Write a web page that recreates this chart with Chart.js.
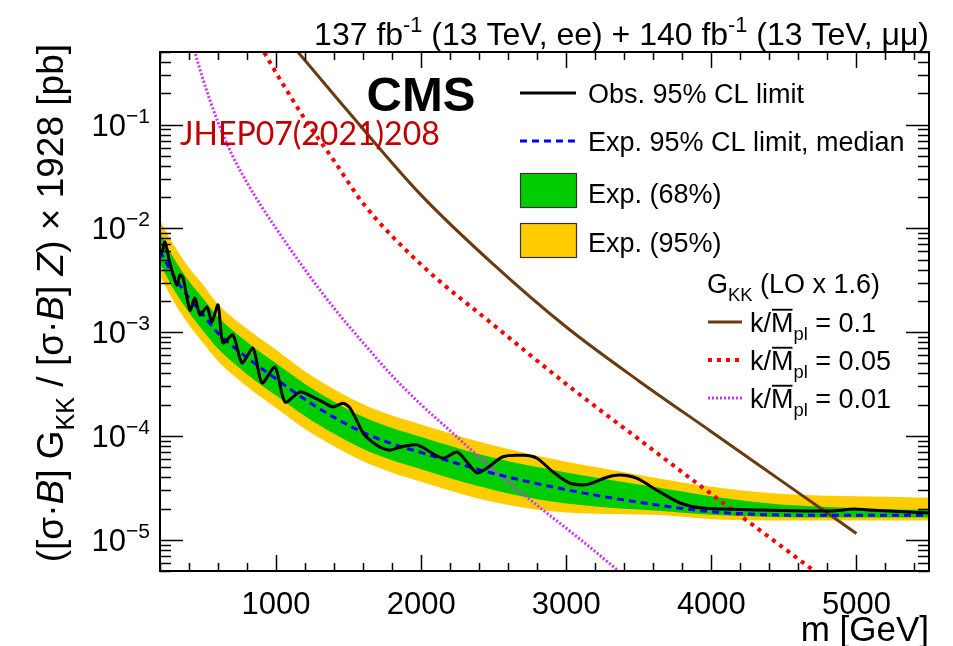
<!DOCTYPE html>
<html>
<head>
<meta charset="utf-8">
<script src="https://cdn.jsdelivr.net/npm/chart.js@4.4.1/dist/chart.umd.min.js"></script>
<style>
  html, body { margin: 0; padding: 0; background: #fff; }
  #wrap { position: relative; width: 953px; height: 646px; }
</style>
</head>
<body>
<div id="wrap"><canvas id="chart" width="953" height="646"></canvas></div>
<script>
// expected limit and bands (mass in GeV, limit in pb)
const bandMass = [200, 300, 400, 500, 600, 800, 1000, 1200, 1400, 1600, 1800, 2000, 2400, 2800, 3200, 3600, 4000, 4400, 4800, 5200, 5500];
const expMedian = [6.03e-3, 3.39e-3, 2.14e-3, 1.45e-3, 9.77e-4, 5.69e-4, 3.55e-4, 2.24e-4, 1.51e-4, 1.08e-4, 8.41e-5, 6.92e-5, 4.73e-5, 3.47e-5, 2.69e-5, 2.19e-5, 1.86e-5, 1.74e-5, 1.72e-5, 1.72e-5, 1.72e-5];
const exp68Up = [8.91e-3, 5.01e-3, 3.09e-3, 2.09e-3, 1.41e-3, 8.04e-4, 5.01e-4, 3.16e-4, 2.14e-4, 1.53e-4, 1.19e-4, 9.77e-5, 6.68e-5, 5.01e-5, 3.98e-5, 3.24e-5, 2.63e-5, 2.24e-5, 2.07e-5, 1.97e-5, 1.93e-5];
const exp68Down = [4.57e-3, 2.51e-3, 1.55e-3, 1.02e-3, 6.92e-4, 3.94e-4, 2.45e-4, 1.55e-4, 1.05e-4, 7.5e-5, 5.82e-5, 4.79e-5, 3.27e-5, 2.45e-5, 2.09e-5, 1.91e-5, 1.74e-5, 1.66e-5, 1.64e-5, 1.64e-5, 1.64e-5];
const exp95Up = [1.20e-2, 6.76e-3, 4.17e-3, 2.82e-3, 1.86e-3, 1.08e-3, 6.76e-4, 4.17e-4, 2.82e-4, 2.02e-4, 1.57e-4, 1.29e-4, 8.8e-5, 6.46e-5, 5.01e-5, 3.98e-5, 3.24e-5, 2.82e-5, 2.66e-5, 2.60e-5, 2.54e-5];
const exp95Down = [3.47e-3, 1.91e-3, 1.17e-3, 7.76e-4, 5.25e-4, 2.99e-4, 1.86e-4, 1.17e-4, 7.94e-5, 5.69e-5, 4.42e-5, 3.63e-5, 2.48e-5, 1.95e-5, 1.78e-5, 1.74e-5, 1.58e-5, 1.53e-5, 1.53e-5, 1.53e-5, 1.53e-5];

// observed limit
const obsMass = [200, 214, 234, 269, 317, 338, 359, 407, 441, 476, 524, 558, 600, 634, 703, 765, 841, 903, 993, 1062, 1165, 1255, 1323, 1392, 1461, 1510, 1599, 1647, 1716, 1785, 1854, 1971, 2150, 2247, 2316, 2385, 2454, 2564, 2702, 2798, 2909, 3026, 3143, 3281, 3370, 3488, 3625, 3784, 3935, 4315, 4825, 4983, 5080, 5500];
const obsLimit = [6.0e-3, 5.9e-3, 7.4e-3, 4.6e-3, 2.84e-3, 3.55e-3, 3.33e-3, 1.63e-3, 2.13e-3, 1.46e-3, 1.75e-3, 1.25e-3, 1.83e-3, 7.9e-4, 9.4e-4, 5.05e-4, 7.0e-4, 3.24e-4, 4.6e-4, 2.12e-4, 2.65e-4, 2.37e-4, 2.12e-4, 1.90e-4, 2.07e-4, 1.86e-4, 1.07e-4, 9.1e-5, 7.8e-5, 7.3e-5, 7.8e-5, 8.2e-5, 6.1e-5, 7.0e-5, 5.6e-5, 4.4e-5, 4.9e-5, 6.3e-5, 6.5e-5, 6.1e-5, 4.5e-5, 3.5e-5, 3.4e-5, 4.0e-5, 4.2e-5, 3.9e-5, 3.0e-5, 2.26e-5, 2.02e-5, 1.94e-5, 1.89e-5, 1.98e-5, 1.94e-5, 1.81e-5];

// G_KK theory, k/Mpl = 0.1, 0.05, 0.01
const k01Mass = [1000, 1150, 1500, 2000, 2500, 3000, 3500, 4000, 4500, 5000];
const k01Xsec = [0.87, 0.50, 0.132, 0.0209, 4.47e-3, 1.12e-3, 3.39e-4, 1.10e-4, 3.55e-5, 1.15e-5];
const k005Mass = [800, 900, 1000, 1200, 1400, 1600, 2000, 2500, 3000, 3500, 4000, 4500, 4800];
const k005Xsec = [1.0, 0.55, 0.316, 0.112, 0.0447, 0.0174, 4.47e-3, 1.17e-3, 3.16e-4, 9.3e-5, 2.75e-5, 8.3e-6, 4.0e-6];
const k001Mass = [400, 440, 500, 600, 700, 800, 900, 1000, 1200, 1400, 1600, 1800, 2000, 2200, 2500, 2800, 3100, 3400];
const k001Xsec = [0.80, 0.50, 0.263, 0.105, 0.050, 0.0275, 0.0162, 0.0100, 3.98e-3, 1.70e-3, 7.9e-4, 3.8e-4, 2.0e-4, 1.12e-4, 4.7e-5, 2.14e-5, 1.0e-5, 4.5e-6];

const xLabelTicks = [1000, 2000, 3000, 4000, 5000];
const yLabelExps = [-5, -4, -3, -2, -1];

const FONT = '"Liberation Sans", Arial, Helvetica, sans-serif';
const pairs = (xs, ys) => xs.map((x, i) => ({ x, y: ys[i] }));

// draws a run of text pieces: [text, {s: size factor, dy: offset in em, italic, bold, over}]
function drawRich(ctx, parts, x, y, size, align) {
  const metrics = parts.map(([text, o = {}]) => {
    const fs = size * (o.s || 1);
    const font = `${o.italic ? "italic " : ""}${o.bold ? "bold " : ""}${fs}px ${FONT}`;
    ctx.font = font;
    return { text, o, fs, font, w: ctx.measureText(text).width };
  });
  const total = metrics.reduce((s, m) => s + m.w, 0);
  let cx = align === "right" ? x - total : align === "center" ? x - total / 2 : x;
  metrics.forEach((m) => {
    ctx.font = m.font;
    const by = y + (m.o.dy || 0) * size;
    ctx.fillText(m.text, cx, by);
    if (m.o.over) ctx.fillRect(cx + 1, by - m.fs * 0.86, m.w - 2, Math.max(1.5, m.fs * 0.07));
    cx += m.w;
  });
  return total;
}

const rootStyle = {
  id: "rootStyle",
  afterDraw(chart) {
    const { ctx, chartArea: a, scales } = chart;
    const xs = scales.x, ys = scales.y;
    ctx.save();
    ctx.strokeStyle = "#000";
    ctx.fillStyle = "#000";

    // tick marks on all four sides, pointing inwards
    ctx.lineWidth = 1.5;
    ctx.beginPath();
    for (let m = 200; m <= 5500; m += 200) {
      const px = Math.round(xs.getPixelForValue(m)) + 0.5;
      const len = m % 1000 === 0 ? 16 : 8;
      ctx.moveTo(px, a.bottom); ctx.lineTo(px, a.bottom - len);
      ctx.moveTo(px, a.top); ctx.lineTo(px, a.top + len);
    }
    for (let d = -6; d <= -1; d++) {
      for (let k = 1; k <= 9; k++) {
        const v = k * Math.pow(10, d);
        if (v < 4.99e-6 || v > 0.501) continue;
        const py = Math.round(ys.getPixelForValue(v)) + 0.5;
        const len = k === 1 ? 23 : 11;
        ctx.moveTo(a.left, py); ctx.lineTo(a.left + len, py);
        ctx.moveTo(a.right, py); ctx.lineTo(a.right - len, py);
      }
    }
    ctx.stroke();

    // frame
    ctx.lineWidth = 2;
    ctx.strokeRect(a.left, a.top, a.right - a.left, a.bottom - a.top);

    // y tick labels 10^n
    ctx.textBaseline = "alphabetic";
    yLabelExps.forEach((e) => {
      const py = ys.getPixelForValue(Math.pow(10, e));
      drawRich(ctx, [["10"], ["\u2212" + (-e), { s: 0.68, dy: -0.42 }]], 150, py + 11, 31, "right");
    });

    // header
    drawRich(ctx, [
      ["137 fb"], ["-1", { s: 0.68, dy: -0.42 }], [" (13 TeV, ee) + 140 fb"], ["-1", { s: 0.68, dy: -0.42 }], [" (13 TeV, \u03bc\u03bc)"],
    ], 929, 45, 32, "right");

    // axis titles
    drawRich(ctx, [["m [GeV]"]], 929, 641, 35, "right");
    ctx.save();
    ctx.translate(63, 44);
    ctx.rotate(-Math.PI / 2);
    drawRich(ctx, [
      ["([\u03c3\u00b7"], ["B", { italic: true }], ["] G"], ["KK", { s: 0.68, dy: 0.3 }],
      [" / [\u03c3\u00b7"], ["B", { italic: true }], ["] "], ["Z", { italic: true }], [") \u00d7 1928 [pb]"],
    ], 0, 0, 37, "right");
    ctx.restore();

    // CMS label and reference
    ctx.font = `bold 49px ${FONT}`;
    ctx.textAlign = "center";
    ctx.fillText("CMS", 421, 111);
    ctx.textAlign = "left";
    ctx.fillStyle = "#c00000";
    ctx.font = '32px Lato, "Open Sans", sans-serif';
    ctx.fillText("JHEP07(2021)208", 180, 145);

    // legend
    ctx.fillStyle = "#000";
    const lx0 = 520, lx1 = 576, tx = 588, lf = 27;
    const legLine = (x0, x1, y, color, width, dash) => {
      ctx.save();
      ctx.strokeStyle = color; ctx.lineWidth = width; ctx.setLineDash(dash);
      ctx.beginPath(); ctx.moveTo(x0, y); ctx.lineTo(x1, y); ctx.stroke();
      ctx.restore();
    };
    legLine(lx0, lx1, 93, "#000", 3, []);
    drawRich(ctx, [["Obs. 95% CL limit"]], tx, 93 + 10, lf, "left");
    legLine(lx0, lx1, 141, "#0000ff", 3, [7, 5]);
    drawRich(ctx, [["Exp. 95% CL limit, median"]], tx, 141 + 10, lf, "left");
    const legBox = (y0, color) => {
      ctx.fillStyle = color; ctx.fillRect(lx0, y0, 57, 35);
      ctx.strokeStyle = "#333"; ctx.lineWidth = 1.2; ctx.strokeRect(lx0 + 0.5, y0 + 0.5, 56, 34);
      ctx.fillStyle = "#000";
    };
    legBox(173, "#00cc00");
    drawRich(ctx, [["Exp. (68%)"]], tx, 193 + 10, lf, "left");
    legBox(223, "#ffcc00");
    drawRich(ctx, [["Exp. (95%)"]], tx, 242 + 10, lf, "left");

    drawRich(ctx, [["G"], ["KK", { s: 0.68, dy: 0.3 }], [" (LO x 1.6)"]], 707, 283 + 10, lf, "left");
    const kLabel = (val) => [["k/"], ["M", { over: true }], ["pl", { s: 0.68, dy: 0.3 }], [" = " + val]];
    legLine(708, 742, 322, "#6b3a0e", 3, []);
    drawRich(ctx, kLabel("0.1"), 750, 322 + 10, lf, "left");
    legLine(708, 742, 360, "#ff0000", 4, [4, 5]);
    drawRich(ctx, kLabel("0.05"), 750, 360 + 10, lf, "left");
    legLine(708, 742, 398, "#cc33ff", 3, [2, 2]);
    drawRich(ctx, kLabel("0.01"), 750, 398 + 10, lf, "left");

    ctx.restore();
  },
};

const lineSet = (label, data, color, width, dash, order, extra) => Object.assign({
  label, data, borderColor: color, borderWidth: width, borderDash: dash,
  pointRadius: 0, fill: false, order, clip: 0, cubicInterpolationMode: "monotone",
}, extra || {});

new Chart(document.getElementById("chart"), {
  type: "line",
  data: {
    datasets: [
      lineSet("Obs. 95% CL limit", pairs(obsMass, obsLimit), "#000", 3, [], 0, { cubicInterpolationMode: "default", tension: 0.25 }),
      lineSet("Exp. 95% CL limit, median", pairs(bandMass, expMedian), "#0000ff", 3, [7, 5], 1),
      lineSet("k/Mpl = 0.1", pairs(k01Mass, k01Xsec), "#6b3a0e", 3, [], 2),
      lineSet("k/Mpl = 0.05", pairs(k005Mass, k005Xsec), "#ff0000", 4, [4, 5], 3),
      lineSet("k/Mpl = 0.01", pairs(k001Mass, k001Xsec), "#cc33ff", 3, [2, 2], 4),
      lineSet("Exp. (68%)", pairs(bandMass, exp68Up), "rgba(0,0,0,0)", 0, [], 5, { fill: "+1", backgroundColor: "#00cc00" }),
      lineSet("68% low", pairs(bandMass, exp68Down), "rgba(0,0,0,0)", 0, [], 5),
      lineSet("Exp. (95%)", pairs(bandMass, exp95Up), "rgba(0,0,0,0)", 0, [], 6, { fill: "+1", backgroundColor: "#ffcc00" }),
      lineSet("95% low", pairs(bandMass, exp95Down), "rgba(0,0,0,0)", 0, [], 6),
    ],
  },
  options: {
    responsive: false,
    animation: false,
    devicePixelRatio: 1,
    layout: { padding: { top: 52, right: 24, left: 0, bottom: 0 } },
    plugins: { legend: { display: false }, tooltip: { enabled: false } },
    scales: {
      x: {
        type: "linear", min: 200, max: 5500,
        grid: { display: false, drawTicks: false }, border: { display: false },
        afterBuildTicks: (axis) => { axis.ticks = xLabelTicks.map((value) => ({ value })); },
        ticks: {
          font: { family: FONT, size: 31 }, color: "#000", padding: 16, maxRotation: 0, autoSkip: false,
          callback: (value) => String(value),
        },
        afterFit: (axis) => { axis.height = 75; },
      },
      y: {
        type: "logarithmic", min: 5e-6, max: 0.5,
        grid: { display: false, drawTicks: false }, border: { display: false },
        ticks: { display: false },
        afterFit: (axis) => { axis.width = 160; },
      },
    },
  },
  plugins: [rootStyle],
});
</script>
</body>
</html>
